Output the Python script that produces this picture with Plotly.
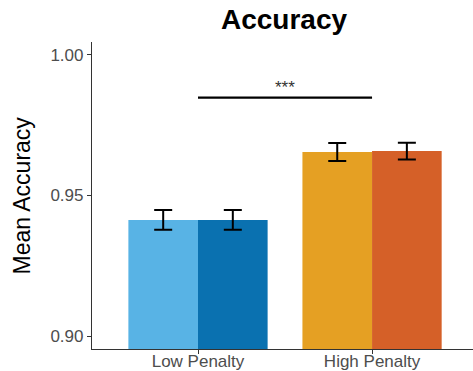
import plotly.graph_objects as go

categories = ["Low Penalty", "High Penalty"]
left_vals = [0.9413, 0.9655]
left_err = [0.0035, 0.0032]
left_colors = ["#58B3E5", "#E5A023"]
right_vals = [0.9413, 0.9658]
right_err = [0.0035, 0.0030]
right_colors = ["#0A71B0", "#D56028"]
y_ticks = [0.90, 0.95, 1.00]
y_tick_labels = ["0.90", "0.95", "1.00"]
sig_y = 0.9848
sig_label = "***"

FONT = "Liberation Sans, Arial, Helvetica, sans-serif"

fig = go.Figure()
for vals, errs, cols in [(left_vals, left_err, left_colors), (right_vals, right_err, right_colors)]:
    fig.add_trace(go.Bar(
        x=categories, y=vals,
        marker=dict(color=cols, line=dict(width=0)),
        error_y=dict(type="data", array=errs, visible=True, color="black", thickness=2, width=9),
        showlegend=False,
    ))

fig.add_shape(type="line", xref="x", yref="y", x0=0, x1=1, y0=sig_y, y1=sig_y,
              line=dict(color="black", width=2.3))
fig.add_annotation(x=0.5, y=sig_y, xref="x", yref="y", text=sig_label, showarrow=False,
                   yanchor="bottom", yshift=-1, font=dict(family=FONT, size=17, color="#333333"))

fig.add_annotation(x=-0.184, y=0.5, xref="paper", yref="paper", text="Mean Accuracy",
                   textangle=-90, showarrow=False, xanchor="center", yanchor="middle",
                   font=dict(family=FONT, size=23, color="black"))

fig.update_layout(
    template="none",
    width=473, height=371,
    margin=dict(l=92, r=0, t=42, b=22, autoexpand=False),
    plot_bgcolor="white", paper_bgcolor="white",
    barmode="group", bargap=0.2, bargroupgap=0,
    title=dict(text="<b>Accuracy</b>", x=284/473, xanchor="center", xref="container",
               y=0.948, yanchor="middle", yref="container",
               font=dict(family=FONT, size=28, color="black")),
    xaxis=dict(range=[-0.609, 1.58], showline=True, linecolor="#333333", linewidth=1.2,
               ticks="outside", ticklen=4, tickcolor="#333333", showgrid=False, zeroline=False,
               automargin=False, ticklabelstandoff=-8,
               tickfont=dict(family=FONT, size=17, color="#4D4D4D")),
    yaxis=dict(range=[0.8954, 1.0046], tickvals=y_ticks, ticktext=y_tick_labels,
               showline=True, linecolor="#333333", linewidth=1.2,
               ticks="outside", ticklen=4, tickcolor="#333333", showgrid=False, zeroline=False,
               automargin=False,
               tickfont=dict(family=FONT, size=17, color="#4D4D4D")),
)

fig.write_html("out.html", config={"displayModeBar": False},
               post_script="document.body.style.margin='0';document.body.style.overflow='hidden';")
